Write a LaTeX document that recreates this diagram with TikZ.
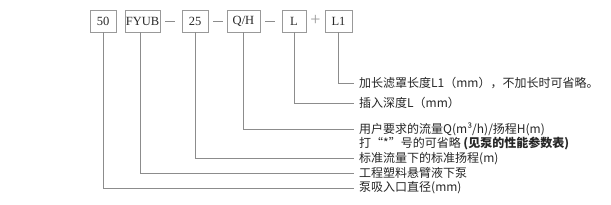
\documentclass[tikz,border=0pt]{standalone}
\usepackage{fontspec}
\setmainfont{Liberation Serif}
\newfontfamily\cjk{Noto Sans CJK SC}
\begin{document}
\begin{tikzpicture}[x=1pt,y=-1pt,
  codebox/.style={draw=black!40,line width=0.6pt,minimum height=22pt,inner sep=0pt,font=\fontsize{12.5}{13}\selectfont,text=black!85},
  sepmark/.style={text=black!40,font=\fontsize{18}{18}\selectfont,inner sep=0pt},
  lead/.style={draw=black!45,line width=0.6pt},
  desc/.style={anchor=west,inner sep=0pt,font=\cjk\fontsize{12}{13}\selectfont,text=black!85}]
\useasboundingbox (0,0) rectangle (611,205);
% code boxes
\node[codebox,minimum width=26pt] (b50) at (103,21) {50};
\node[codebox,minimum width=35pt] (bfy) at (142.5,21) {FYUB};
\node[codebox,minimum width=26pt] (b25) at (195,21) {25};
\node[codebox,minimum width=33pt] (bqh) at (243.5,21) {Q/H};
\node[codebox,minimum width=24pt] (bl) at (294,21) {L};
\node[codebox,minimum width=27pt] (bl1) at (338.5,21) {L1};
% separators
\coordinate (s1a) at (165,21); \coordinate (s1b) at (175,21);
\coordinate (s2a) at (213,21); \coordinate (s2b) at (223,21);
\coordinate (s3a) at (265,21); \coordinate (s3b) at (275,21);
\draw[lead] (s1a) -- (s1b);
\draw[lead] (s2a) -- (s2b);
\draw[lead] (s3a) -- (s3b);
\node[sepmark] (plus) at (315.5,20) {+};
% descriptions
\node[desc] (d1) at (359,83) {加长滤罩长度L1（mm），不加长时可省略。};
\node[desc] (d2) at (359,103) {插入深度L（mm）};
\node[desc] (d3) at (359,129) {用户要求的流量Q(m³/h)/扬程H(m)};
\node[desc] (d3b) at (359,144) {打“*”号的可省略 {\bfseries (见泵的性能参数表)}};
\node[desc] (d4) at (359,158.5) {标准流量下的标准扬程(m)};
\node[desc] (d5) at (359,173) {工程塑料悬臂液下泵};
\node[desc] (d6) at (359,188) {泵吸入口直径(mm)};
% leaders
\draw[lead] (bl1.south) |- ([xshift=-5pt]d1.west);
\draw[lead] (bl.south) |- ([xshift=-5pt]d2.west);
\draw[lead] (bqh.south) |- ([xshift=-5pt]d3.west);
\draw[lead] (b25.south) |- ([xshift=-5pt]d4.west);
\draw[lead] (bfy.south -| 140,0) |- ([xshift=-5pt]d5.west);
\draw[lead] (b50.south) |- ([xshift=-5pt]d6.west);
\end{tikzpicture}
\end{document}
